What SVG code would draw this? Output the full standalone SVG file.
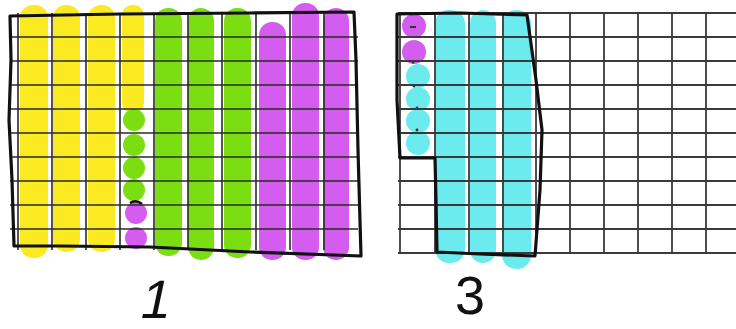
<svg xmlns="http://www.w3.org/2000/svg" width="736" height="329" viewBox="0 0 736 329">
<style>
.y{fill:#FBEA22}
.g{fill:#7ADE12}
.p{fill:#D45CEE}
.c{fill:#6CEBEE}
.grid line{stroke:#2a2a2a;stroke-width:1.6}
.grid2 line{stroke:#3a3a3a;stroke-width:1.8}
.border{fill:none;stroke:#111;stroke-width:3.2;stroke-linejoin:round;stroke-linecap:round}
.lbl{font-family:"Liberation Sans",Arial,sans-serif;font-size:54px;fill:#111}
</style>
<rect width="736" height="329" fill="#fff"/>
<g id="grid-hundred">
  <g id="strips-left">
    <rect class="y" x="20" y="5" width="28" height="253" rx="13"/>
    <rect class="y" x="53" y="5" width="27" height="247" rx="13"/>
    <rect class="y" x="88" y="5" width="27" height="247" rx="13"/>
    <rect class="y" x="122" y="5" width="22" height="108" rx="10"/>
    <rect class="g" x="155" y="8" width="27" height="248" rx="13"/>
    <rect class="g" x="188" y="8" width="26" height="252" rx="13"/>
    <rect class="g" x="224" y="8" width="27" height="250" rx="13"/>
    <rect class="p" x="259" y="22" width="27" height="238" rx="13"/>
    <rect class="p" x="292" y="3" width="27" height="257" rx="13"/>
    <rect class="p" x="323" y="8" width="26" height="252" rx="13"/>
    <circle class="g" cx="134" cy="120" r="11"/>
    <circle class="g" cx="134" cy="145" r="11"/>
    <circle class="g" cx="134" cy="168" r="11"/>
    <circle class="g" cx="134" cy="190" r="11"/>
    <circle class="p" cx="136" cy="213" r="11"/>
    <circle class="p" cx="136" cy="238" r="11"/>
    <path d="M130,203 Q136,199 142,204" fill="none" stroke="#111" stroke-width="2.5"/>
  </g>
  <g class="grid">
    <line x1="10" y1="37" x2="358" y2="37"/>
    <line x1="10" y1="61" x2="358" y2="61"/>
    <line x1="10" y1="85" x2="358" y2="85"/>
    <line x1="10" y1="109" x2="358" y2="109"/>
    <line x1="10" y1="133" x2="358" y2="133"/>
    <line x1="10" y1="157" x2="358" y2="157"/>
    <line x1="10" y1="181" x2="358" y2="181"/>
    <line x1="10" y1="205" x2="358" y2="205"/>
    <line x1="10" y1="229" x2="358" y2="229"/>
    <line x1="18" y1="13" x2="18" y2="250"/>
    <line x1="52" y1="13" x2="52" y2="250"/>
    <line x1="86" y1="13" x2="86" y2="250"/>
    <line x1="120" y1="13" x2="120" y2="250"/>
    <line x1="154" y1="13" x2="154" y2="250"/>
    <line x1="188" y1="13" x2="188" y2="250"/>
    <line x1="222" y1="13" x2="222" y2="250"/>
    <line x1="256" y1="13" x2="256" y2="250"/>
    <line x1="290" y1="13" x2="290" y2="250"/>
    <line x1="324" y1="13" x2="324" y2="250"/>
  </g>
  <path class="border" d="M10,16 L120,14 L250,13 L354,12 L356,60 L358,150 L361,256 L250,252 L150,247 L60,246 L14,246 L12,180 L9,120 L11,60 Z"/>
</g>
<g id="grid-thirty">
  <g id="strips-right">
    <rect class="c" x="435" y="10" width="30" height="253" rx="14"/>
    <rect class="c" x="470" y="10" width="26" height="253" rx="13"/>
    <rect class="c" x="502" y="10" width="29" height="259" rx="14"/>
    <circle class="p" cx="414" cy="26" r="12"/>
    <circle class="p" cx="414" cy="52" r="12"/>
    <circle class="c" cx="418" cy="76" r="12"/>
    <circle class="c" cx="418" cy="99" r="12"/>
    <circle class="c" cx="418" cy="121" r="12"/>
    <circle class="c" cx="418" cy="143" r="12"/>
    <g fill="#333">
      <rect x="410" y="26" width="6" height="2"/>
      <circle cx="413" cy="62" r="1.6"/>
      <circle cx="414" cy="86" r="1.4"/>
      <circle cx="417" cy="108" r="1.4"/>
      <circle cx="417" cy="130" r="1.4"/>
    </g>
  </g>
  <g class="grid2">
    <line x1="398" y1="13" x2="736" y2="13"/>
    <line x1="398" y1="37" x2="736" y2="37"/>
    <line x1="398" y1="61" x2="736" y2="61"/>
    <line x1="398" y1="85" x2="736" y2="85"/>
    <line x1="398" y1="109" x2="736" y2="109"/>
    <line x1="398" y1="133" x2="736" y2="133"/>
    <line x1="398" y1="157" x2="736" y2="157"/>
    <line x1="398" y1="181" x2="736" y2="181"/>
    <line x1="398" y1="205" x2="736" y2="205"/>
    <line x1="398" y1="229" x2="736" y2="229"/>
    <line x1="398" y1="253" x2="736" y2="253"/>
    <line x1="400" y1="13" x2="400" y2="253"/>
    <line x1="435" y1="13" x2="435" y2="253"/>
    <line x1="469" y1="13" x2="469" y2="253"/>
    <line x1="503" y1="13" x2="503" y2="253"/>
    <line x1="536" y1="13" x2="536" y2="253"/>
    <line x1="570" y1="13" x2="570" y2="253"/>
    <line x1="604" y1="13" x2="604" y2="253"/>
    <line x1="638" y1="13" x2="638" y2="253"/>
    <line x1="672" y1="13" x2="672" y2="253"/>
    <line x1="706" y1="13" x2="706" y2="253"/>
  </g>
  <path class="border" d="M397,14 L460,13 L527,15 L536,80 L542,130 L540,190 L535,256 L480,254 L437,252 L436,200 L435,158 L400,158 L397,100 Z"/>
</g>
<g id="labels">
  <text class="lbl" transform="translate(138,318) skewX(-12)" x="0" y="0">1</text>
  <text class="lbl" x="455" y="314">3</text>
</g>
</svg>
